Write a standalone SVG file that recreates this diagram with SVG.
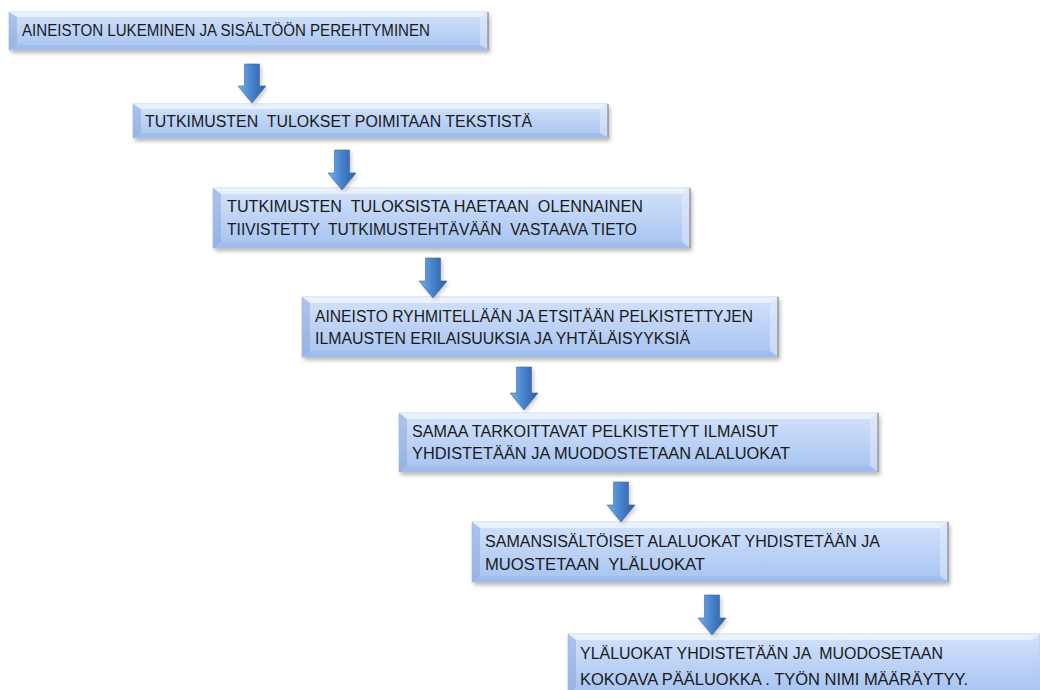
<svg xmlns="http://www.w3.org/2000/svg" width="1040" height="690" viewBox="0 0 1040 690">
<defs>
<linearGradient id="face" x1="0" y1="0" x2="0" y2="1">
<stop offset="0" stop-color="#d3e2fb"/>
<stop offset="1" stop-color="#a6c3f1"/>
</linearGradient>
<linearGradient id="arr" x1="0" y1="0" x2="1" y2="0">
<stop offset="0" stop-color="#7aaee8"/>
<stop offset="0.45" stop-color="#4a86cf"/>
<stop offset="1" stop-color="#2b5c9c"/>
</linearGradient>
<filter id="sh" x="-5%" y="-20%" width="110%" height="150%">
<feGaussianBlur stdDeviation="2"/>
</filter>
</defs>
<style>
.shadow{fill:#777;opacity:0.55;filter:url(#sh)}
.face{fill:url(#face);stroke:#b9cbe6;stroke-width:0.8}
.bt{fill:#ffffff;opacity:0.55}
.bl{fill:#7e9fd3;opacity:0.45}
.br{fill:#e4eeff;opacity:0.5}
.bb{fill:#8eaedf;opacity:0.35}
.edge{fill:none;stroke:#9a9a9a;stroke-width:1.5}
.t{font-family:"Liberation Sans",Arial,sans-serif;font-size:16px;fill:#1a1a1a;white-space:pre}
.arrow{fill:url(#arr);stroke:#3a6aa8;stroke-width:0.6}
.ashadow{fill:#666;opacity:0.35;filter:url(#sh)}
</style>
<rect width="1040" height="690" fill="#ffffff"/>

<g id="node1">
<rect class="shadow" x="11" y="15" width="479" height="38"/>
<rect class="face" x="9" y="12" width="479" height="38"/>
<polygon class="bt" points="9,12 488,12 480,17 17,17"/>
<polygon class="bl" points="9,12 17,17 17,45 9,50"/>
<polygon class="br" points="488,12 488,50 480,45 480,17"/>
<polygon class="bb" points="9,50 488,50 480,45 17,45"/>
<line class="edge" x1="488" y1="12" x2="488" y2="50"/>
<text class="t" x="22" y="36" textLength="408" lengthAdjust="spacingAndGlyphs">AINEISTON LUKEMINEN JA SISÄLTÖÖN PEREHTYMINEN</text>
</g>

<g id="node2">
<rect class="shadow" x="135" y="107" width="475" height="34"/>
<rect class="face" x="133" y="104" width="475" height="34"/>
<polygon class="bt" points="133,104 608,104 600,109 141,109"/>
<polygon class="bl" points="133,104 141,109 141,133 133,138"/>
<polygon class="br" points="608,104 608,138 600,133 600,109"/>
<polygon class="bb" points="133,138 608,138 600,133 141,133"/>
<line class="edge" x1="608" y1="104" x2="608" y2="138"/>
<text class="t" x="145" y="127" textLength="387" lengthAdjust="spacingAndGlyphs">TUTKIMUSTEN  TULOKSET POIMITAAN TEKSTISTÄ</text>
</g>

<g id="node3">
<rect class="shadow" x="215" y="191" width="477" height="60"/>
<rect class="face" x="213" y="188" width="477" height="60"/>
<polygon class="bt" points="213,188 690,188 682,194 221,194"/>
<polygon class="bl" points="213,188 221,194 221,242 213,248"/>
<polygon class="br" points="690,188 690,248 682,242 682,194"/>
<polygon class="bb" points="213,248 690,248 682,242 221,242"/>
<line class="edge" x1="690" y1="188" x2="690" y2="248"/>
<text class="t" x="227" y="212" textLength="416" lengthAdjust="spacingAndGlyphs">TUTKIMUSTEN  TULOKSISTA HAETAAN  OLENNAINEN</text>
<text class="t" x="227" y="235" textLength="410" lengthAdjust="spacingAndGlyphs">TIIVISTETTY  TUTKIMUSTEHTÄVÄÄN  VASTAAVA TIETO</text>
</g>

<g id="node4">
<rect class="shadow" x="304" y="300" width="476" height="60"/>
<rect class="face" x="302" y="297" width="476" height="60"/>
<polygon class="bt" points="302,297 778,297 770,303 310,303"/>
<polygon class="bl" points="302,297 310,303 310,351 302,357"/>
<polygon class="br" points="778,297 778,357 770,351 770,303"/>
<polygon class="bb" points="302,357 778,357 770,351 310,351"/>
<line class="edge" x1="778" y1="297" x2="778" y2="357"/>
<text class="t" x="315" y="322" textLength="438" lengthAdjust="spacingAndGlyphs">AINEISTO RYHMITELLÄÄN JA ETSITÄÄN PELKISTETTYJEN</text>
<text class="t" x="315" y="344" textLength="375" lengthAdjust="spacingAndGlyphs">ILMAUSTEN ERILAISUUKSIA JA YHTÄLÄISYYKSIÄ</text>
</g>

<g id="node5">
<rect class="shadow" x="401" y="416" width="479" height="59"/>
<rect class="face" x="399" y="413" width="479" height="59"/>
<polygon class="bt" points="399,413 878,413 870,419 407,419"/>
<polygon class="bl" points="399,413 407,419 407,466 399,472"/>
<polygon class="br" points="878,413 878,472 870,466 870,419"/>
<polygon class="bb" points="399,472 878,472 870,466 407,466"/>
<line class="edge" x1="878" y1="413" x2="878" y2="472"/>
<text class="t" x="412" y="437" textLength="366" lengthAdjust="spacingAndGlyphs">SAMAA TARKOITTAVAT PELKISTETYT ILMAISUT</text>
<text class="t" x="412" y="459" textLength="378" lengthAdjust="spacingAndGlyphs">YHDISTETÄÄN JA MUODOSTETAAN ALALUOKAT</text>
</g>

<g id="node6">
<rect class="shadow" x="474" y="525" width="476" height="60"/>
<rect class="face" x="472" y="522" width="476" height="60"/>
<polygon class="bt" points="472,522 948,522 940,528 480,528"/>
<polygon class="bl" points="472,522 480,528 480,576 472,582"/>
<polygon class="br" points="948,522 948,582 940,576 940,528"/>
<polygon class="bb" points="472,582 948,582 940,576 480,576"/>
<line class="edge" x1="948" y1="522" x2="948" y2="582"/>
<text class="t" x="485" y="547" textLength="395" lengthAdjust="spacingAndGlyphs">SAMANSISÄLTÖISET ALALUOKAT YHDISTETÄÄN JA</text>
<text class="t" x="485" y="570" textLength="220" lengthAdjust="spacingAndGlyphs">MUOSTETAAN  YLÄLUOKAT</text>
</g>

<g id="node7">
<rect class="shadow" x="570" y="637" width="472" height="60"/>
<rect class="face" x="568" y="634" width="472" height="60"/>
<polygon class="bt" points="568,634 1040,634 1032,640 576,640"/>
<polygon class="bl" points="568,634 576,640 576,688 568,694"/>
<text class="t" x="580" y="659" textLength="363" lengthAdjust="spacingAndGlyphs">YLÄLUOKAT YHDISTETÄÄN JA  MUODOSETAAN</text>
<text class="t" x="580" y="685" textLength="388" lengthAdjust="spacingAndGlyphs">KOKOAVA PÄÄLUOKKA . TYÖN NIMI MÄÄRÄYTYY.</text>
</g>

<g id="connectors">
<path class="ashadow" d="M246.5,66 H261.5 V88 H268 L254,105 L240,88 H246.5 Z"/>
<path class="arrow" d="M244.5,64 H259.5 V86 H266 L252,103 L238,86 H244.5 Z"/>
<path class="ashadow" d="M336.5,152 H351.5 V175 H358 L344,192 L330,175 H336.5 Z"/>
<path class="arrow" d="M334.5,150 H349.5 V173 H356 L342,190 L328,173 H334.5 Z"/>
<path class="ashadow" d="M427.5,260 H442.5 V283 H449 L435,300 L421,283 H427.5 Z"/>
<path class="arrow" d="M425.5,258 H440.5 V281 H447 L433,298 L419,281 H425.5 Z"/>
<path class="ashadow" d="M518.5,369 H533.5 V395 H540 L526,412 L512,395 H518.5 Z"/>
<path class="arrow" d="M516.5,367 H531.5 V393 H538 L524,410 L510,393 H516.5 Z"/>
<path class="ashadow" d="M615.5,484 H630.5 V507 H637 L623,524 L609,507 H615.5 Z"/>
<path class="arrow" d="M613.5,482 H628.5 V505 H635 L621,522 L607,505 H613.5 Z"/>
<path class="ashadow" d="M706.5,597 H721.5 V620 H728 L714,637 L700,620 H706.5 Z"/>
<path class="arrow" d="M704.5,595 H719.5 V618 H726 L712,635 L698,618 H704.5 Z"/>
</g>
</svg>
